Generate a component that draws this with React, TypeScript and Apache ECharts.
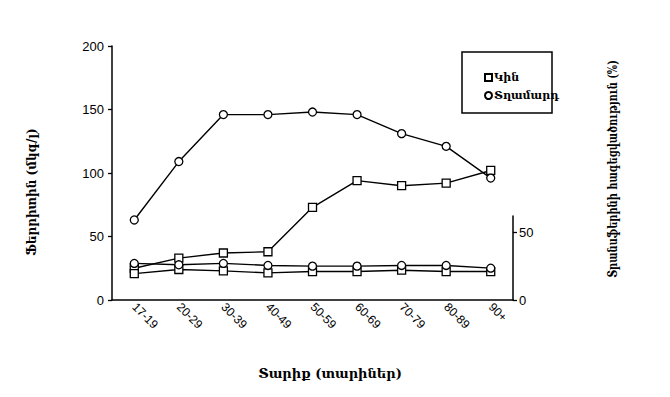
import React, { useEffect, useRef } from "react";
import * as echarts from "echarts";

const categories = ["17-19", "20-29", "30-39", "40-49", "50-59", "60-69", "70-79", "80-89", "90+"];
const ferritinWomen = [25, 33, 37, 38, 73, 94, 90, 92, 102];
const ferritinMen = [63, 109, 146, 146, 148, 146, 131, 121, 96];
const saturationWomen = [19.5, 22.5, 21.5, 20, 21, 21, 22, 21, 21];
const saturationMen = [27, 26, 27, 25.5, 25, 25, 25.5, 25.5, 23.5];
const leftTicks = [0, 50, 100, 150, 200];
const rightTicks = [0, 50];

const womenName = "Կին";
const menName = "Տղամարդ";
const xTitle = "Տարիք (տարիներ)";
const leftTitle = "Ֆերրիտին (մկգ/լ)";
const rightTitle = "Տրանսֆերինի հագեցվածություն (%)";

const serif = "'DejaVu Serif', serif";
const sans = "'Liberation Sans', Arial, sans-serif";

export default function App() {
  const ref = useRef<HTMLDivElement>(null);
  useEffect(() => {
    if (!ref.current) return;
    const chart = echarts.init(ref.current, null, { renderer: "svg" });
    const markerStyle = { color: "#fff", borderColor: "#000", borderWidth: 1.3 };
    const lineStyle = { color: "#000", width: 1.4 };
    const mk = (name: string, data: number[], symbol: string, idx: number) => ({
      name,
      type: "line",
      data,
      symbol,
      symbolSize: 8,
      showAllSymbol: true,
      itemStyle: markerStyle,
      lineStyle,
      xAxisIndex: idx,
      yAxisIndex: idx,
      z: symbol === "rect" ? 3 : 4,
    });
    chart.setOption({
      animation: false,
      backgroundColor: "#fff",
      grid: [
        { left: 112, right: 157, top: 46, bottom: 97 },
        { left: 112, right: 157, top: 216, bottom: 97 },
      ],
      xAxis: [
        {
          type: "category",
          data: categories,
          gridIndex: 0,
          axisLine: { lineStyle: { color: "#000", width: 1.5 } },
          axisTick: { alignWithLabel: true, length: 5, lineStyle: { color: "#000", width: 1.3 } },
          axisLabel: { rotate: -45, color: "#000", fontFamily: sans, fontSize: 12, margin: 5 },
        },
        {
          type: "category",
          data: categories,
          gridIndex: 1,
          show: false,
        },
      ],
      yAxis: [
        {
          type: "value",
          gridIndex: 0,
          min: 0,
          max: 200,
          interval: 50,
          axisLine: { show: true, lineStyle: { color: "#000", width: 1.5 } },
          axisTick: { show: true, length: 4, lineStyle: { color: "#000", width: 1.3 } },
          axisLabel: {
            color: "#000",
            fontFamily: sans,
            fontSize: 13,
            margin: 8,
            customValues: leftTicks,
          },
          splitLine: { show: false },
        },
        {
          type: "value",
          gridIndex: 1,
          position: "right",
          min: 0,
          max: 62,
          interval: 50,
          axisLine: { show: true, lineStyle: { color: "#000", width: 1.5 } },
          axisTick: {
            show: true,
            inside: false,
            length: 4,
            lineStyle: { color: "#000", width: 1.3 },
            customValues: rightTicks,
          },
          axisLabel: {
            color: "#000",
            fontFamily: sans,
            fontSize: 13,
            margin: 6,
            customValues: rightTicks,
          },
          splitLine: { show: false },
        },
      ],
      legend: {
        orient: "vertical",
        left: 479,
        top: 67,
        itemWidth: 7,
        itemHeight: 7,
        itemGap: 7,
        textStyle: { color: "#000", fontFamily: serif, fontWeight: "bold", fontSize: 11, padding: [0, 0, 0, -3] },
        data: [
          { name: womenName, icon: "rect" },
          { name: menName, icon: "circle" },
        ],
      },
      graphic: [
        {
          type: "rect",
          shape: { x: 462, y: 52, width: 90, height: 61 },
          style: { fill: "none", stroke: "#000", lineWidth: 1.5 },
        },
        {
          type: "text",
          x: 330,
          y: 373,
          style: { text: xTitle, fill: "#000", font: `bold 13px ${serif}`, textAlign: "center", textVerticalAlign: "middle" },
        },
        {
          type: "text",
          x: 32,
          y: 192,
          rotation: Math.PI / 2,
          style: { text: leftTitle, fill: "#000", font: `bold 12px ${serif}`, textAlign: "center", textVerticalAlign: "middle" },
        },
        {
          type: "text",
          x: 613,
          y: 169,
          rotation: Math.PI / 2,
          scaleX: 0.82,
          style: { text: rightTitle, fill: "#000", font: `bold 12px ${serif}`, textAlign: "center", textVerticalAlign: "middle" },
        },
      ],
      series: [
        mk(womenName, ferritinWomen, "rect", 0),
        mk(menName, ferritinMen, "circle", 0),
        mk(womenName, saturationWomen, "rect", 1),
        mk(menName, saturationMen, "circle", 1),
      ],
    });
    return () => chart.dispose();
  }, []);
  return <div ref={ref} style={{ width: 670, height: 397, position: "absolute", left: 0, top: 0 }} />;
}
